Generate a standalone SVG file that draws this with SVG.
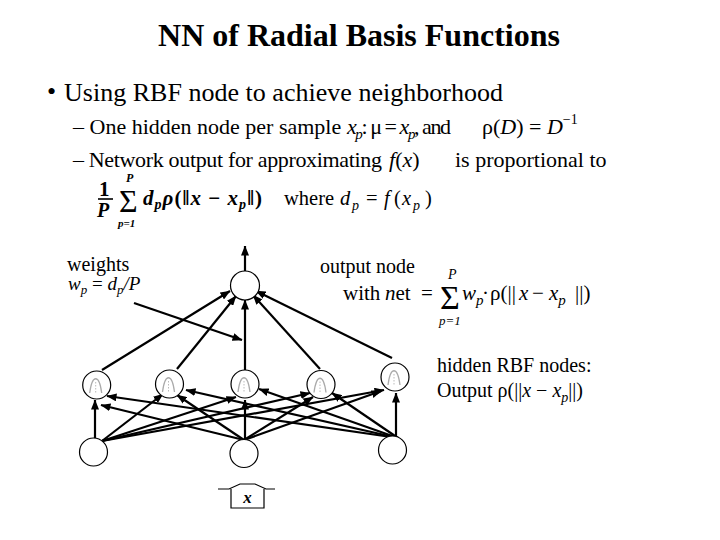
<svg xmlns="http://www.w3.org/2000/svg" width="720" height="540" viewBox="0 0 720 540" font-family="'Liberation Serif', 'Times New Roman', Times, 'DejaVu Serif', serif">
<defs>
<style>
text{fill:#000}
.i{font-style:italic}
.node{fill:#fff;stroke:#000;stroke-width:1.2}
.edge{stroke:#000;stroke-width:2.2;fill:none;marker-end:url(#ah)}
.bell{fill:none;stroke:#aaa;stroke-width:1.3}
.dash{stroke:#bbb;stroke-width:1;stroke-dasharray:1.5 1.5}
.t22{font-size:22px}
.t20{font-size:20px}
</style>
<marker id="ah" markerUnits="userSpaceOnUse" markerWidth="10" markerHeight="8" refX="9.5" refY="4" orient="auto"><path d="M0,0 L10,4 L0,8 Z" fill="#000"/></marker>
</defs>
<rect width="720" height="540" fill="#fff"/>

<text x="359" y="46" text-anchor="middle" font-size="32" font-weight="bold">NN of Radial Basis Functions</text>
<text x="47" y="100" font-size="26">•</text>
<text x="64" y="101" font-size="26" textLength="439">Using RBF node to achieve neighborhood</text>

<text class="t22" y="134" x="73">– One hidden node per sample</text>
<text class="t22" y="134" x="347" textLength="104"><tspan class="i">x</tspan><tspan class="i" font-size="15" dy="5">p</tspan><tspan dy="-5">: μ = </tspan><tspan class="i">x</tspan><tspan class="i" font-size="15" dy="5">p</tspan><tspan dy="-5">, and</tspan></text>
<text class="t22" y="134" x="482">ρ(<tspan class="i">D</tspan>) = <tspan class="i">D</tspan><tspan font-size="14" dy="-10">−1</tspan></text>

<text class="t22" y="167" x="73" textLength="309">– Network output for approximating</text>
<text class="t22" y="167" x="389"><tspan class="i">f</tspan>(<tspan class="i">x</tspan>)</text>
<text class="t22" y="167" x="455">is proportional to</text>

<text x="99" y="196" font-size="21" font-weight="bold">1</text>
<line x1="98" y1="199" x2="113" y2="199" stroke="#000" stroke-width="1.6"/>
<text x="97" y="217" font-size="20" font-weight="bold" font-style="italic">P</text>
<text x="119" y="212" font-size="32">Σ</text>
<text x="126" y="182" font-size="12" font-weight="bold" font-style="italic">P</text>
<text x="118" y="227" font-size="11" font-weight="bold" font-style="italic">p=1</text>
<text x="143" y="205" font-size="21" font-weight="bold" textLength="119"><tspan class="i">d</tspan><tspan class="i" font-size="14" dy="4">p</tspan><tspan class="i" dy="-4">ρ</tspan>(‖<tspan class="i">x</tspan> − <tspan class="i">x</tspan><tspan class="i" font-size="14" dy="4">p</tspan><tspan dy="-4">‖)</tspan></text>
<text y="205" font-size="20.5"><tspan x="284">where</tspan><tspan x="340" class="i">d</tspan><tspan x="352" class="i" font-size="14" dy="5">p</tspan><tspan x="366" dy="-5">=</tspan><tspan x="384" class="i">f</tspan><tspan x="394">(</tspan><tspan x="402" class="i">x</tspan><tspan x="413" class="i" font-size="14" dy="5">p</tspan><tspan x="425" dy="-5">)</tspan></text>

<text x="67" y="271" class="t20">weights</text>
<text x="68" y="290" font-size="19"><tspan class="i">w</tspan><tspan class="i" font-size="13" dy="4">p</tspan><tspan dy="-4"> = </tspan><tspan class="i">d</tspan><tspan class="i" font-size="13" dy="4">p</tspan><tspan class="i" dy="-4">/P</tspan></text>

<text x="320" y="273" class="t20">output node</text>
<text y="300" font-size="21"><tspan x="343">with</tspan><tspan x="385" class="i">n</tspan>et<tspan x="421">=</tspan></text>
<text x="440" y="309" font-size="34">Σ</text>
<text x="448" y="279" font-size="14" class="i">P</text>
<text x="439" y="325" font-size="13" class="i">p=1</text>
<text y="300" font-size="21"><tspan x="462" class="i">w</tspan><tspan class="i" font-size="15" dy="5">p</tspan><tspan x="482" dy="-5">·</tspan><tspan x="490">ρ(||</tspan><tspan x="519" class="i">x</tspan><tspan x="532">−</tspan><tspan x="549" class="i">x</tspan><tspan class="i" font-size="15" dy="5">p</tspan><tspan x="575" dy="-5">||)</tspan></text>

<text x="437" y="372" class="t20">hidden RBF nodes:</text>
<text x="437" y="397" class="t20">Output ρ(||<tspan class="i">x</tspan> − <tspan class="i">x</tspan><tspan class="i" font-size="14" dy="5">p</tspan><tspan dy="-5">||)</tspan></text>

<g id="edges">
<line class="edge" x1="102" y1="370" x2="230" y2="291"/>
<line class="edge" x1="177" y1="369" x2="236" y2="296"/>
<line class="edge" x1="245" y1="370" x2="245" y2="300"/>
<line class="edge" x1="320" y1="369" x2="253" y2="295"/>
<line class="edge" x1="392" y1="358" x2="256" y2="291"/>
<line class="edge" x1="245" y1="271" x2="245" y2="246"/>
<line class="edge" x1="134" y1="303" x2="242" y2="340"/>

<line class="edge" x1="95" y1="438" x2="95" y2="400"/>
<line class="edge" x1="102" y1="441" x2="163" y2="394"/>
<line class="edge" x1="102" y1="441" x2="236" y2="397"/>
<line class="edge" x1="102" y1="441" x2="310" y2="393"/>
<line class="edge" x1="102" y1="441" x2="384" y2="390"/>

<line class="edge" x1="244" y1="440" x2="101" y2="405"/>
<line class="edge" x1="244" y1="440" x2="177" y2="395"/>
<line class="edge" x1="245" y1="439" x2="245" y2="400"/>
<line class="edge" x1="244" y1="440" x2="313" y2="397"/>
<line class="edge" x1="244" y1="440" x2="381" y2="391"/>

<line class="edge" x1="398" y1="438" x2="107" y2="396"/>
<line class="edge" x1="398" y1="438" x2="186" y2="390"/>
<line class="edge" x1="398" y1="438" x2="259" y2="389"/>
<line class="edge" x1="398" y1="438" x2="332" y2="393"/>
<line class="edge" x1="396" y1="436" x2="396" y2="393"/>
</g>

<g id="out"><circle class="node" cx="245" cy="285.5" r="14.5"/></g>

<g id="h1" transform="translate(96.7,385)"><circle class="node" r="14"/><path class="bell" d="M-7,8 C-4.5,-11 2.5,-11 5,8"/><line class="dash" x1="-1" y1="-3" x2="-1" y2="9"/></g>
<g id="h2" transform="translate(169.5,384)"><circle class="node" r="14"/><path class="bell" d="M-7,8 C-4.5,-11 2.5,-11 5,8"/><line class="dash" x1="-1" y1="-3" x2="-1" y2="9"/></g>
<g id="h3" transform="translate(245,384)"><circle class="node" r="14"/><path class="bell" d="M-7,8 C-4.5,-11 2.5,-11 5,8"/><line class="dash" x1="-1" y1="-3" x2="-1" y2="9"/></g>
<g id="h4" transform="translate(321,384.5)"><circle class="node" r="14"/><path class="bell" d="M-7,8 C-4.5,-11 2.5,-11 5,8"/><line class="dash" x1="-1" y1="-3" x2="-1" y2="9"/></g>
<g id="h5" transform="translate(395,377)"><circle class="node" r="14"/><path class="bell" d="M-7,8 C-4.5,-11 2.5,-11 5,8"/><line class="dash" x1="-1" y1="-3" x2="-1" y2="9"/></g>

<g id="i1"><circle class="node" cx="93.5" cy="452" r="14"/></g>
<g id="i2"><circle class="node" cx="244" cy="453.5" r="14"/></g>
<g id="i3"><circle class="node" cx="392.5" cy="450" r="14"/></g>

<g id="xin">
<path d="M218,489 H229 L240,484 H255 L266,489 H275" fill="none" stroke="#000" stroke-width="1.2"/>
<path d="M231,489 V508 H264 V489" fill="none" stroke="#000" stroke-width="1.2"/>
<text x="247.5" y="503" text-anchor="middle" font-size="17" font-weight="bold" font-style="italic">x</text>
</g>
</svg>
